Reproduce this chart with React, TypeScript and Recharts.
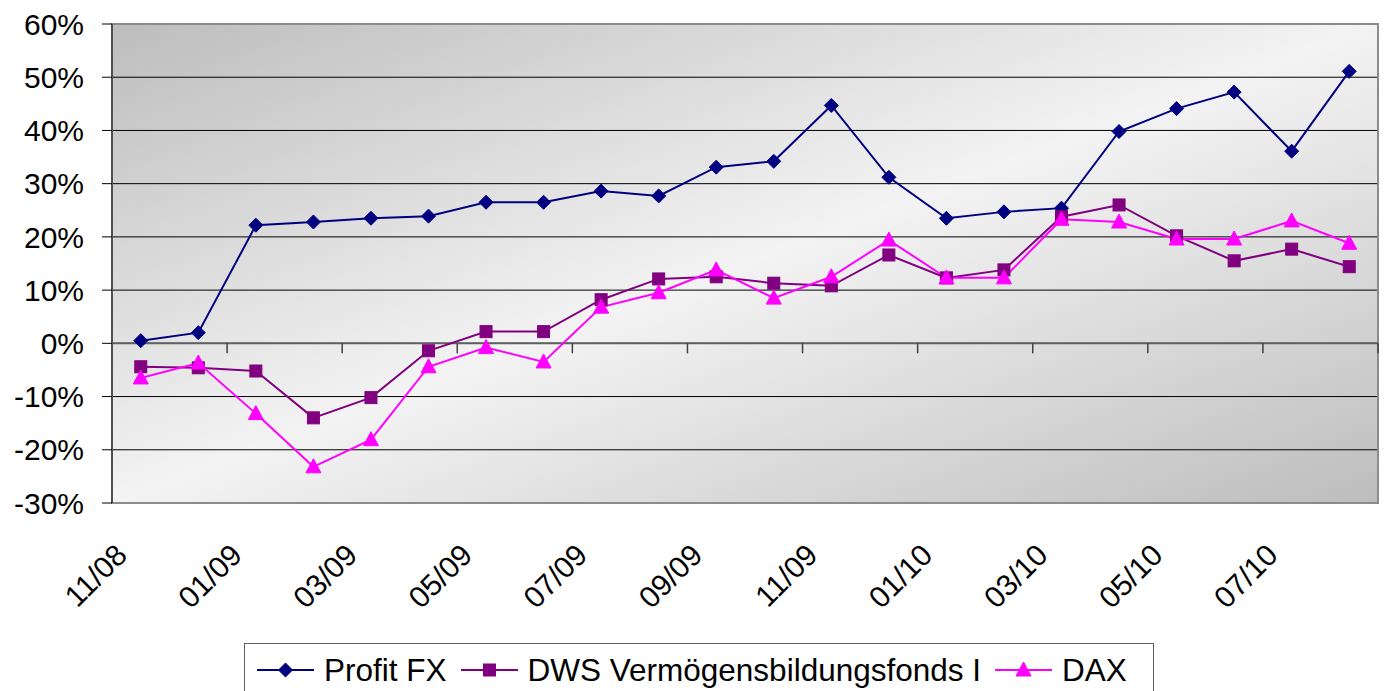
import React from 'react';
import { LineChart, Line, XAxis, YAxis, CartesianGrid, ReferenceLine, ReferenceArea } from 'recharts';

const months = ['11/08','12/08','01/09','02/09','03/09','04/09','05/09','06/09','07/09','08/09','09/09','10/09','11/09','12/09','01/10','02/10','03/10','04/10','05/10','06/10','07/10','08/10'];
const profitFX = [0.5, 2.0, 22.2, 22.8, 23.5, 23.9, 26.5, 26.5, 28.6, 27.7, 33.1, 34.2, 44.7, 31.2, 23.5, 24.7, 25.4, 39.8, 44.1, 47.2, 36.1, 51.1];
const dws = [-4.4, -4.6, -5.2, -14.0, -10.2, -1.4, 2.2, 2.2, 8.2, 12.1, 12.5, 11.3, 10.8, 16.6, 12.3, 13.8, 23.8, 26.0, 20.2, 15.5, 17.7, 14.4];
const dax = [-6.5, -3.7, -13.2, -23.2, -18.1, -4.4, -0.8, -3.5, 6.8, 9.5, 13.8, 8.5, 12.5, 19.4, 12.3, 12.3, 23.3, 22.8, 19.6, 19.6, 23.0, 18.8];
const yTicks = [-30, -20, -10, 0, 10, 20, 30, 40, 50, 60];
const seriesNames = ['Profit FX', 'DWS Vermögensbildungsfonds I', 'DAX'];
const seriesColors = ['#000080', '#800080', '#FF00FF'];

const data = months.map((m, i) => ({ month: m, profit: profitFX[i], dws: dws[i], dax: dax[i] }));

const FONT = '"Liberation Sans", Arial, sans-serif';

const Diamond = (props: any) => {
  const { cx, cy, fill } = props;
  if (cx == null || cy == null) return null;
  const r = 7;
  return <path d={`M${cx},${cy - r}L${cx + r},${cy}L${cx},${cy + r}L${cx - r},${cy}Z`} fill={fill} stroke={fill} strokeWidth={1} />;
};
const Square = (props: any) => {
  const { cx, cy, fill } = props;
  if (cx == null || cy == null) return null;
  const r = 6;
  return <rect x={cx - r} y={cy - r} width={2 * r} height={2 * r} fill={fill} stroke={fill} strokeWidth={1} />;
};
const Triangle = (props: any) => {
  const { cx, cy, fill } = props;
  if (cx == null || cy == null) return null;
  return <path d={`M${cx},${cy - 8}L${cx + 7.5},${cy + 6}L${cx - 7.5},${cy + 6}Z`} fill={fill} stroke={fill} strokeWidth={1} />;
};

const XTick = (props: any) => {
  const { x, y, payload, index } = props;
  if (index % 2 !== 0) return null;
  const ax = x - 12;
  const ay = y + 54;
  return (
    <text x={ax} y={ay} transform={`rotate(-45, ${ax}, ${ay})`} textAnchor="end" fontSize={30} fontFamily={FONT} fill="#000">
      {payload.value}
    </text>
  );
};

const ZeroAxis = (props: any) => {
  const { x1, y1, x2 } = props;
  if (x1 == null) return null;
  const n = months.length;
  const bw = (x2 - x1) / n;
  const ticks = [];
  for (let k = 0; k <= n; k += 2) {
    const x = x1 + k * bw;
    ticks.push(<line key={k} x1={x} y1={y1} x2={x} y2={y1 + 10} stroke="#404040" strokeWidth={1.5} />);
  }
  return (
    <g>
      <line x1={x1} y1={y1} x2={x2} y2={y1} stroke="#606060" strokeWidth={2} />
      {ticks}
    </g>
  );
};

const LegendIcon = ({ idx }: { idx: number }) => {
  const c = seriesColors[idx];
  return (
    <svg width={57} height={20} style={{ display: 'block' }}>
      <line x1={0} y1={10} x2={57} y2={10} stroke={c} strokeWidth={2} />
      {idx === 0 && <Diamond cx={28.5} cy={10} fill={c} />}
      {idx === 1 && <Square cx={28.5} cy={10} fill={c} />}
      {idx === 2 && <Triangle cx={28.5} cy={10} fill={c} />}
    </svg>
  );
};

export default function App() {
  return (
    <div style={{ position: 'absolute', left: 0, top: 0, width: 1391, height: 691, background: '#fff', overflow: 'hidden', fontFamily: FONT }}>
      <LineChart width={1391} height={691} data={data} margin={{ top: 24, right: 13, left: 0, bottom: 0 }}>
        <defs>
          <linearGradient id="plotBg" x1="0" y1="0" x2="1" y2="1">
            <stop offset="0" stopColor="#bdbdbd" />
            <stop offset="0.5" stopColor="#f3f3f3" />
            <stop offset="1" stopColor="#bdbdbd" />
          </linearGradient>
        </defs>
        <CartesianGrid vertical={false} horizontal={true} stroke="#000" strokeWidth={1} fill="url(#plotBg)" fillOpacity={1} />
        <ReferenceArea y1={-30} y2={60} fill="none" stroke="#8c8c8c" strokeWidth={2} ifOverflow="visible" />
        <XAxis dataKey="month" scale="band" interval={0} axisLine={false} tickLine={false} tickSize={0} tickMargin={0} height={188} tick={<XTick />} />
        <YAxis domain={[-30, 60]} ticks={yTicks} interval={0} width={112} tickSize={10} tickMargin={18}
          axisLine={{ stroke: '#505050', strokeWidth: 2 }} tickLine={{ stroke: '#000' }}
          tickFormatter={(v: number) => `${v}%`} tick={{ fontSize: 30, fill: '#000', fontFamily: FONT }} />
        <ReferenceLine y={0} shape={<ZeroAxis />} ifOverflow="visible" />
        <Line dataKey="profit" name={seriesNames[0]} stroke={seriesColors[0]} strokeWidth={2} type="linear" dot={<Diamond fill={seriesColors[0]} />} activeDot={false} isAnimationActive={false} />
        <Line dataKey="dws" name={seriesNames[1]} stroke={seriesColors[1]} strokeWidth={2} type="linear" dot={<Square fill={seriesColors[1]} />} activeDot={false} isAnimationActive={false} />
        <Line dataKey="dax" name={seriesNames[2]} stroke={seriesColors[2]} strokeWidth={2} type="linear" dot={<Triangle fill={seriesColors[2]} />} activeDot={false} isAnimationActive={false} />
      </LineChart>
      <div style={{ position: 'absolute', left: 244, top: 643, width: 910, height: 54, border: '1px solid #606060', display: 'flex', alignItems: 'center', paddingLeft: 12, boxSizing: 'border-box', fontSize: 31.5, color: '#000', whiteSpace: 'nowrap' }}>
        {seriesNames.map((name, i) => (
          <div key={name} style={{ display: 'flex', alignItems: 'center', marginRight: 14 }}>
            <LegendIcon idx={i} />
            <span style={{ marginLeft: 10 }}>{name}</span>
          </div>
        ))}
      </div>
    </div>
  );
}
